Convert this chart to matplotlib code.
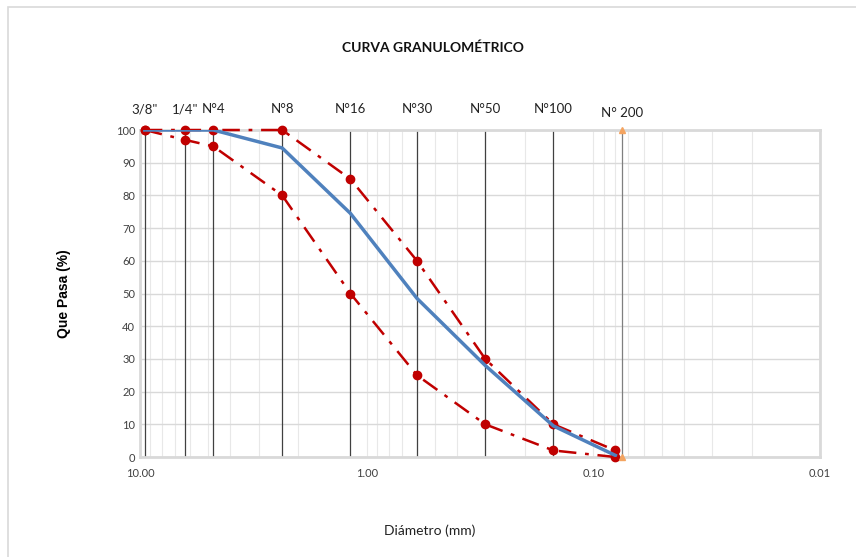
import matplotlib
matplotlib.use("Agg")
import matplotlib.pyplot as plt
from matplotlib.patches import Rectangle
from matplotlib.ticker import FixedLocator, NullFormatter

plt.rcParams['font.family'] = ['Lato', 'DejaVu Sans']

# tamices
tamices = ['3/8"', '1/4"', 'N°4', 'N°8', 'N°16', 'N°30', 'N°50', 'N°100', 'N° 200']
abertura = [9.525, 6.35, 4.75, 2.36, 1.18, 0.60, 0.30, 0.15, 0.075]
# diametros de los puntos de la curva (ultimo un poco corrido)
diam = [9.525, 6.35, 4.75, 2.36, 1.18, 0.60, 0.30, 0.15, 0.08]

pasa = [100, 100, 100, 94.5, 74.5, 48.5, 28, 9.5, 0.5]
lim_sup = [100, 100, 100, 100, 85, 60, 30, 10, 2]
lim_inf = [100, 97, 95, 80, 50, 25, 10, 2, 0]

fig = plt.figure(figsize=(8.56, 5.57), dpi=100)
fig.patches.append(Rectangle((0.009, -0.01), 1.0, 0.997, transform=fig.transFigure,
                             fill=False, edgecolor='#d9d9d9', linewidth=1.2))
ax = fig.add_axes([0.1636, 0.1795, 0.7944, 0.5871])

ax.set_xscale('log')
ax.set_xlim(10, 0.01)
ax.set_ylim(0, 100)

# grid
ax.set_yticks(range(0, 101, 10))
ax.yaxis.grid(True, color='#d9d9d9', linewidth=1)
ax.xaxis.set_major_locator(FixedLocator([10, 1, 0.1, 0.01]))
ax.set_xticklabels(['10.00', '1.00', '0.10', '0.01'])
ax.xaxis.set_minor_formatter(NullFormatter())
ax.xaxis.grid(True, which='both', color='#e8e8e8', linewidth=0.8)
ax.set_axisbelow(True)
ax.tick_params(axis='both', which='both', length=0, labelsize=8, colors='#404040')
ax.tick_params(axis='x', pad=8)
for s in ax.spines.values():
    s.set_color('#d9d9d9')
    s.set_linewidth(2)

# lineas de tamices
for a, t in zip(abertura[:-1], tamices[:-1]):
    ax.axvline(a, color='#404040', linewidth=0.9, zorder=1)
    ax.text(a, 104.5, t, ha='center', va='bottom', fontsize=9.5, color='#222222')
ax.axvline(abertura[-1], color='#7f7f7f', linewidth=0.9, zorder=1)
ax.text(abertura[-1], 103.5, tamices[-1], ha='center', va='bottom', fontsize=9.5, color='#222222')
ax.plot([abertura[-1], abertura[-1]], [0, 100], linestyle='none', marker='^',
        markersize=4, color='#f4a460', zorder=5, clip_on=False)

ax.plot(diam, lim_sup, color='#c00000', linestyle=(0, (7, 3.5, 1.5, 3.5)), linewidth=1.8,
        marker='o', markersize=6, zorder=3, clip_on=False)
ax.plot(diam, lim_inf, color='#c00000', linestyle=(0, (7, 3.5, 1.5, 3.5)), linewidth=1.8,
        marker='o', markersize=6, zorder=3, clip_on=False)
ax.plot(diam, pasa, color='#4f81bd', linewidth=2.5, zorder=4)

fig.text(0.506, 0.915, 'CURVA GRANULOMÉTRICO', ha='center', va='center', fontsize=10,
         color='#111111', fontweight='bold')
ax.set_ylabel('Que Pasa (%)', fontsize=10, fontweight='bold', family=['Liberation Sans'],
              labelpad=32)
fig.text(0.502, 0.048, 'Diámetro (mm)', ha='center', va='center', fontsize=10,
         color='#222222')

fig.savefig('out.png', dpi=100)
